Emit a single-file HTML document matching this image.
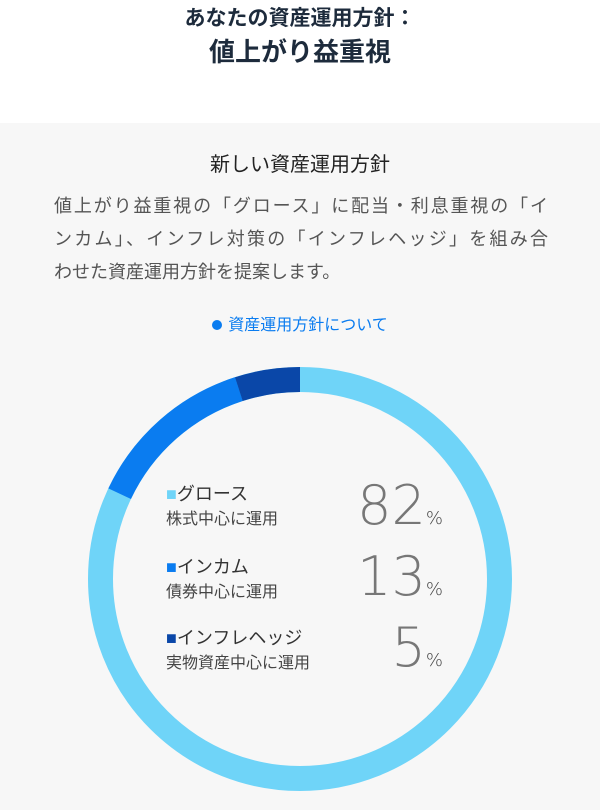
<!DOCTYPE html>
<html><head><meta charset="utf-8"><style>
body{margin:0;width:600px;height:810px;overflow:hidden;background:#fff;font-family:"Liberation Sans","Noto Sans CJK JP",sans-serif;position:relative}
.t{position:absolute;left:0;width:600px;text-align:center;color:#1d2b3c;font-weight:bold}
.g{position:absolute;left:0;top:123px;width:600px;height:687px;background:#f7f7f7}
.p{position:absolute;left:54px;top:190px;width:494px;font-size:18px;line-height:33px;color:#555}
.p div{text-align:justify;text-align-last:justify;white-space:nowrap}
.a{position:absolute;font-size:18px;color:#333;line-height:24px}
.s{font-size:16px;color:#444}
.n{position:absolute;font-size:54px;color:#777;text-align:right;width:130px;left:313px;font-family:"DejaVu Sans",sans-serif;font-weight:200}
.n small{font-size:18px;color:#444}
</style></head><body>
<div class="t" style="top:2px;font-size:21px">あなたの資産運用方針：</div>
<div class="t" style="top:32px;font-size:26px">値上がり益重視</div>
<div class="g"></div>
<div class="t" style="top:148px;font-size:20px;font-weight:normal;color:#222">新しい資産運用方針</div>
<div class="p"><div>値上がり益重視の「グロース」に配当・利息重視の「イ</div><div>ンカム」、インフレ対策の「インフレヘッジ」を組み合</div><div style="text-align-last:left">わせた資産運用方針を提案します。</div></div>
<div class="t" style="top:311px;font-size:16px;font-weight:normal;color:#0a7cf0"><span style="display:inline-block;width:10px;height:10px;border-radius:50%;background:#0a7cf0;margin-right:6px"></span>資産運用方針について</div>
<svg style="position:absolute;left:0;top:0" width="600" height="810">
<g transform="rotate(-90 300 579)" fill="none" stroke-width="25">
<circle cx="300" cy="579" r="199.5" stroke="#6fd4f8"/>
<circle cx="300" cy="579" r="199.5" stroke="#0a7cf0" stroke-dasharray="0 1027.9 163 1000"/>
<circle cx="300" cy="579" r="199.5" stroke="#0a47a8" stroke-dasharray="0 1190.8 63 1000"/>
</g></svg>
<div class="a" style="left:166px;top:482px"><span style="color:#6fd4f8">■</span>グロース<br><span class="s">株式中心に運用</span></div>
<div class="a" style="left:166px;top:555px"><span style="color:#0a7cf0">■</span>インカム<br><span class="s">債券中心に運用</span></div>
<div class="a" style="left:166px;top:626px"><span style="color:#0a47a8">■</span>インフレヘッジ<br><span class="s">実物資産中心に運用</span></div>
<div class="n" style="top:474px">82<small>%</small></div>
<div class="n" style="top:545px">13<small>%</small></div>
<div class="n" style="top:616px">5<small>%</small></div>
</body></html>
